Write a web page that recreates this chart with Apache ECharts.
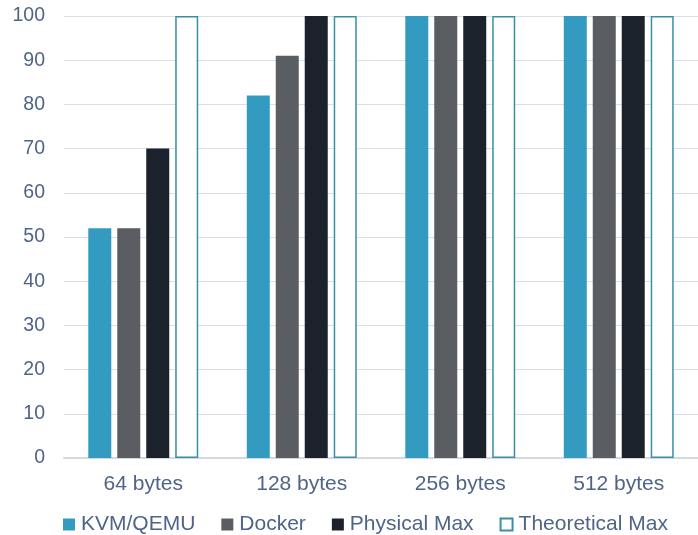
<!DOCTYPE html>
<html>
<head>
<meta charset="utf-8">
<script src="https://cdn.jsdelivr.net/npm/echarts@6/dist/echarts.min.js"></script>
<style>
  html, body { margin: 0; padding: 0; background: #fff; }
  #chart { width: 698px; height: 535px; }
</style>
</head>
<body>
<div id="chart"></div>
<script>
// Packet sizes on the x axis
const categories = ['64 bytes', '128 bytes', '256 bytes', '512 bytes'];

// Throughput (% of line rate) per configuration
const kvmQemu = [52, 82, 100, 100];
const docker = [52, 91, 100, 100];
const physicalMax = [70, 100, 100, 100];
const theoreticalMax = [100, 100, 100, 100];

const yTicks = { min: 0, max: 100, interval: 10 };

const textColor = '#4f6488';
const font = 'Liberation Sans, Arial, sans-serif';

const chart = echarts.init(document.getElementById('chart'));
chart.setOption({
  animation: false,
  grid: { left: 64, right: 0, top: 16, bottom: 77 },
  legend: {
    top: 514,
    left: 63,
    padding: 0,
    itemWidth: 12,
    itemHeight: 12,
    itemGap: 26,
    icon: 'rect',
    textStyle: { color: textColor, fontSize: 21, fontFamily: font, padding: [0, 0, 0, 1] },
    data: ['KVM/QEMU', 'Docker', 'Physical Max', 'Theoretical Max']
  },
  xAxis: {
    type: 'category',
    data: categories,
    axisTick: { show: false },
    axisLine: { lineStyle: { color: '#d3d9e3', width: 2 } },
    axisLabel: { color: textColor, fontSize: 21, fontFamily: font, margin: 16 }
  },
  yAxis: {
    type: 'value',
    min: yTicks.min,
    max: yTicks.max,
    interval: yTicks.interval,
    axisLine: { show: false },
    axisTick: { show: false },
    splitLine: { lineStyle: { color: '#d9dfea', width: 1 } },
    axisLabel: { color: textColor, fontSize: 19.5, fontFamily: font, margin: 19 }
  },
  series: [
    {
      name: 'KVM/QEMU', type: 'bar', data: kvmQemu,
      barWidth: 23, barGap: '26%',
      itemStyle: { color: '#339bbf' }
    },
    {
      name: 'Docker', type: 'bar', data: docker,
      barWidth: 23, barGap: '26%',
      itemStyle: { color: '#5a5e62' }
    },
    {
      name: 'Physical Max', type: 'bar', data: physicalMax,
      barWidth: 23, barGap: '26%',
      itemStyle: { color: '#1c222c' }
    },
    {
      name: 'Theoretical Max', type: 'bar', data: theoreticalMax,
      barWidth: 23, barGap: '26%',
      itemStyle: { color: '#ffffff', borderColor: '#3a8ea6', borderWidth: 1.5 }
    }
  ]
});
</script>
</body>
</html>
